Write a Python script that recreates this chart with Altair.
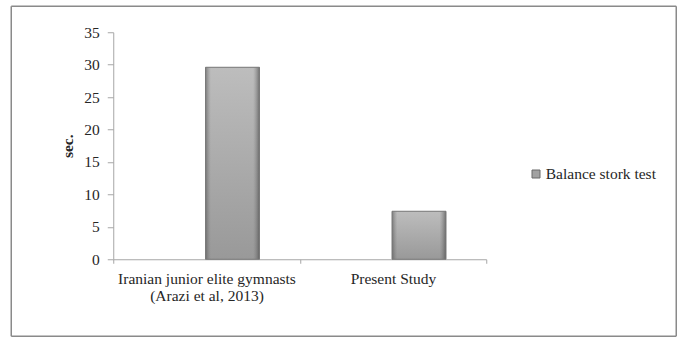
import altair as alt
import pandas as pd

categories = ["Iranian junior elite gymnasts|(Arazi et al, 2013)", "Present Study"]
values = [29.6, 7.4]
series = ["Balance stork test", "Balance stork test"]
y_ticks = [0, 5, 10, 15, 20, 25, 30, 35]

df = pd.DataFrame({"group": categories, "value": values, "series": series})

W, H = 373, 227
FONT = "Liberation Serif, Times New Roman, serif"
FS = 15.5
AXIS_GRAY = "#a6a6a6"
TEXT = "#262626"
BORDER = "#8a8a8a"

x_enc = alt.X(
    "group:N", sort=None,
    scale=alt.Scale(paddingInner=0, paddingOuter=0),
    axis=alt.Axis(title=None, labelAngle=0, labelExpr="split(datum.label, '|')",
                  tickBand="extent", tickSize=4, labelPadding=8, labelLineHeight=17,
                  labelLimit=400, labelBaseline="top"),
)
y_enc = alt.Y(
    "value:Q",
    scale=alt.Scale(domain=[0, 35], nice=False),
    axis=alt.Axis(values=y_ticks, title="sec.", titleFontWeight="bold",
                  titlePadding=8, tickSize=6, labelPadding=8),
)

base = alt.Chart(df)

bars_legend = base.mark_bar(size=54, xOffset=26).encode(
    x=x_enc, y=y_enc,
    color=alt.Color("series:N", scale=alt.Scale(range=["#a2a2a2"]),
                    legend=alt.Legend(title=None, orient="none", legendX=415, legendY=134,
                                      symbolType="square", symbolSize=64,
                                      symbolStrokeColor="#6a6a6a", symbolStrokeWidth=1,
                                      labelOffset=2)),
)

vert_grad = alt.Gradient(gradient="linear", x1=0, x2=0, y1=0, y2=1,
                         stops=[alt.GradientStop(offset=0, color="#bdbdbd"),
                                alt.GradientStop(offset=1, color="#999999")])
bars_vert = base.mark_bar(size=54, xOffset=26, color=vert_grad).encode(
    x=x_enc, y=y_enc)

horz_grad = alt.Gradient(gradient="linear", x1=0, x2=1, y1=0, y2=0,
                         stops=[alt.GradientStop(offset=0, color="rgba(70,70,70,0.55)"),
                                alt.GradientStop(offset=0.1, color="rgba(120,120,120,0)"),
                                alt.GradientStop(offset=0.88, color="rgba(120,120,120,0)"),
                                alt.GradientStop(offset=1, color="rgba(60,60,60,0.6)")])
bars_horz = base.mark_bar(size=54, xOffset=26, color=horz_grad, stroke="#7a7a7a",
                          strokeWidth=1).encode(
    x=x_enc, y=y_enc)

one = pd.DataFrame({"a": [0]})
L, R, T, B = 11 - 113, 676 - 113, 6 - 32, 336 - 32
rule_style = dict(color=BORDER, strokeWidth=1.5)
b_top = alt.Chart(one).mark_rule(**rule_style).encode(
    x=alt.value(L), x2=alt.value(R), y=alt.value(T))
b_bot = alt.Chart(one).mark_rule(**rule_style).encode(
    x=alt.value(L), x2=alt.value(R), y=alt.value(B))
b_left = alt.Chart(one).mark_rule(**rule_style).encode(
    x=alt.value(L), y=alt.value(T), y2=alt.value(B))
b_right = alt.Chart(one).mark_rule(**rule_style).encode(
    x=alt.value(R), y=alt.value(T), y2=alt.value(B))

chart = alt.layer(bars_legend, bars_vert, bars_horz,
                  b_top, b_bot, b_left, b_right).properties(
    width=W, height=H,
    padding={"left": 10.25, "top": 5.25, "right": 0, "bottom": 0},
    autosize=alt.AutoSizeParams(type="pad"),
    background="white",
).configure(
    font=FONT
).configure_view(
    stroke=None, strokeWidth=0, strokeOpacity=0
).configure_axis(
    grid=False, labelFont=FONT, labelFontSize=FS, labelColor=TEXT,
    titleFont=FONT, titleFontSize=FS, titleColor=TEXT,
    domainColor=AXIS_GRAY, tickColor=AXIS_GRAY,
).configure_legend(
    labelFont=FONT, labelFontSize=FS, labelColor=TEXT,
)

chart.save("out.html", embed_options={"renderer": "svg", "actions": False})
